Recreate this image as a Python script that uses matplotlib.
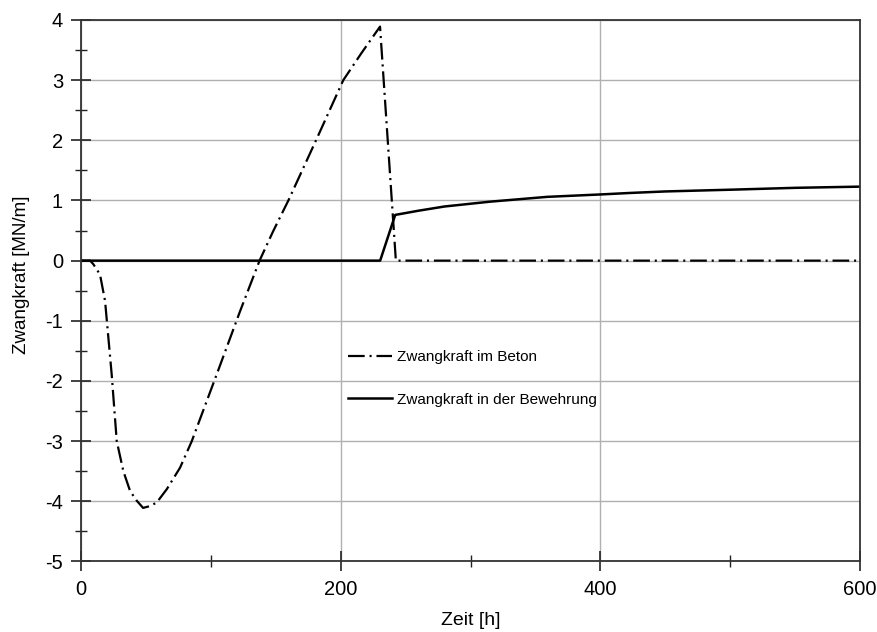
# Zwangkraft in Beton und Bewehrung ueber die Zeit
import numpy as np
import matplotlib
matplotlib.use('Agg')
import matplotlib.pyplot as plt
from matplotlib.ticker import MultipleLocator

plt.rcParams['font.family'] = ['Liberation Sans', 'DejaVu Sans']
plt.rcParams['lines.scale_dashes'] = False
plt.rcParams['axes.unicode_minus'] = False

# data
t_beton = [0, 7, 9.5, 14.6, 18.5, 23.6, 27.5, 32.6, 37.8, 42.9, 47.8, 53, 58.3, 66, 76.3,
           85.3, 104.5, 122.5, 137.5, 148, 159.7, 181, 202, 216, 230.3, 242.5, 600]
f_beton = [0, 0, -0.06, -0.23, -0.67, -1.89, -3.0, -3.5, -3.83, -3.99, -4.11, -4.08, -4.02,
           -3.8, -3.44, -3.0, -1.89, -0.84, 0, 0.49, 1.0, 2.0, 3.0, 3.45, 3.89, 0, 0]

t_stahl = [0, 230.4, 242, 260, 280, 315, 359, 400, 423, 450, 502, 550, 600]
f_stahl = [0, 0, 0.76, 0.83, 0.9, 0.98, 1.06, 1.10, 1.125, 1.15, 1.18, 1.21, 1.23]

labels = ['Zwangkraft im Beton', 'Zwangkraft in der Bewehrung']

fig = plt.figure(figsize=(8.78, 6.32), dpi=100)
ax = fig.add_axes([0.0923, 0.1116, 0.8872, 0.8568])

ax.plot(t_beton, f_beton, color='black', lw=1.6,
        linestyle=(0, (12, 3.5, 1.5, 3.5)), label=labels[0])
ax.plot(t_stahl, f_stahl, color='black', lw=1.8, label=labels[1])

ax.set_xlim(0, 600)
ax.set_ylim(-5, 4)
ax.xaxis.set_major_locator(MultipleLocator(200))
ax.xaxis.set_minor_locator(MultipleLocator(100))
ax.yaxis.set_major_locator(MultipleLocator(1))
ax.yaxis.set_minor_locator(MultipleLocator(0.5))

ax.grid(which='major', color='#b0b0b0', lw=1.0)
ax.set_axisbelow(True)
ax.tick_params(which='major', direction='inout', length=14, width=1.2,
               color='#222222', labelsize=14.5, pad=6)
ax.tick_params(which='minor', direction='inout', length=8, width=1.0, color='#222222')
for s in ax.spines.values():
    s.set_color('#333333')
    s.set_linewidth(1.3)

ax.set_xlabel('Zeit [h]', fontsize=14)
ax.xaxis.set_label_coords(0.5, -0.094)
ax.set_ylabel('Zwangkraft [MN/m]', fontsize=13.5)
ax.yaxis.set_label_coords(-0.066, 0.53)

ax.legend(loc='upper left', bbox_to_anchor=(0.325, 0.415), frameon=False,
          fontsize=11, handlelength=2.9, handletextpad=0.3, labelspacing=1.85)

plt.savefig('out.png', dpi=100)
